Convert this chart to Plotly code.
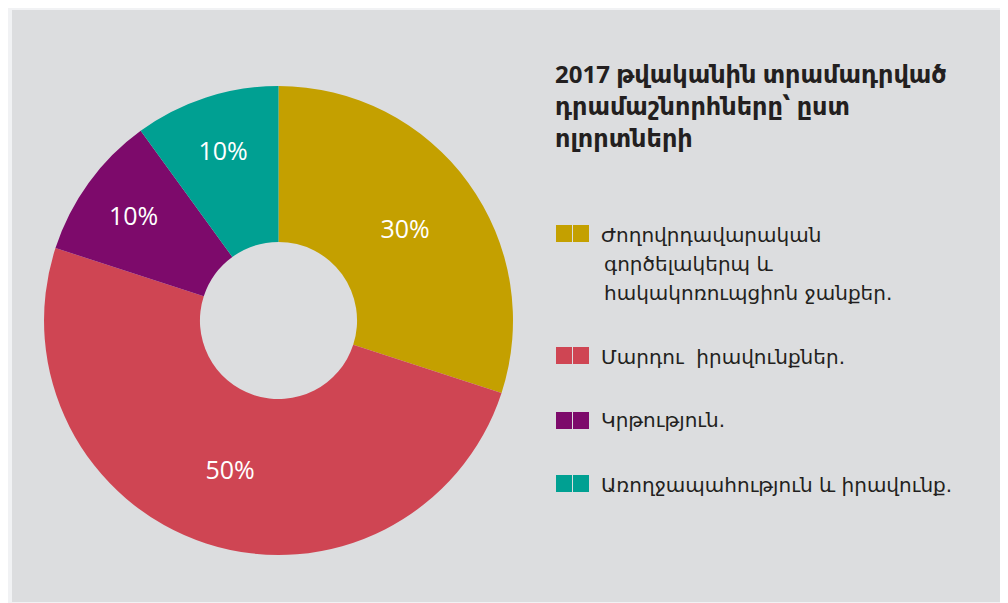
import plotly.graph_objects as go

W, H = 1008, 603
OFF = 8  # browser body margin offset

categories = [
    "Ժողովրդավարական գործելակերպ և հակակոռուպցիոն ջանքեր.",
    "Մարդու  իրավունքներ.",
    "Կրթություն.",
    "Առողջապահություն և իրավունք.",
]
legend_lines = [
    ["Ժողովրդավարական", "գործելակերպ և", "հակակոռուպցիոն ջանքեր."],
    ["Մարդու  իրավունքներ."],
    ["Կրթություն."],
    ["Առողջապահություն և իրավունք."],
]
values = [30, 50, 10, 10]
colors = ["#C4A000", "#CF4553", "#7D0A6B", "#00A092"]
title_lines = ["2017 թվականին տրամադրված", "դրամաշնորհները՝ ըստ", "ոլորտների"]

def px(x):
    return (x - OFF) / W

def py(y):
    return 1 - (y - OFF) / H

cx, cy, r = 278.5, 320.5, 234.5

fig = go.Figure(go.Pie(
    labels=categories,
    values=values,
    marker=dict(colors=colors, line=dict(width=0)),
    hole=0.335,
    sort=False,
    direction="clockwise",
    rotation=0,
    textinfo="percent",
    textposition="inside",
    insidetextorientation="horizontal",
    textfont=dict(family="Open Sans, Lato, sans-serif", size=25, color="white"),
    domain=dict(x=[px(cx - r), px(cx + r)], y=[py(cy + r), py(cy - r)]),
    showlegend=False,
    hoverinfo="label+percent",
))

shapes = [
    dict(type="rect", xref="paper", yref="paper", x0=px(12), x1=px(1000), y0=py(602), y1=py(10),
         fillcolor="#DCDDDF", line=dict(width=0), layer="below"),
]
annotations = []

title_base = [82, 113.5, 145]
for t, b in zip(title_lines, title_base):
    annotations.append(dict(
        text=f"<b>{t}</b>", x=px(553), y=py(b - 8), xref="paper", yref="paper",
        xanchor="left", yanchor="middle", showarrow=False,
        font=dict(family="Noto Sans, DejaVu Sans, sans-serif", size=24, color="#231F20"),
    ))

item_base = [[242, 271, 300], [364], [427], [492]]
sq_top = [225, 347, 412, 475]
for lines, bases, top, col in zip(legend_lines, item_base, sq_top, colors):
    for i, (ln, b) in enumerate(zip(lines, bases)):
        annotations.append(dict(
            text=ln, x=px(599 if i == 0 else 602), y=py(b - 7), xref="paper", yref="paper",
            xanchor="left", yanchor="middle", showarrow=False,
            font=dict(family="DejaVu Sans, sans-serif", size=20, color="#231F20"),
        ))
    for x0 in (556, 573):
        shapes.append(dict(type="rect", xref="paper", yref="paper",
                           x0=px(x0), x1=px(x0 + 16), y0=py(top + 17), y1=py(top),
                           fillcolor=col, line=dict(width=0)))

fig.update_layout(
    width=W, height=H,
    margin=dict(l=0, r=0, t=0, b=0),
    paper_bgcolor="#F1F2F4",
    plot_bgcolor="#F1F2F4",
    shapes=shapes,
    annotations=annotations,
)

fig.write_html("out.html")
